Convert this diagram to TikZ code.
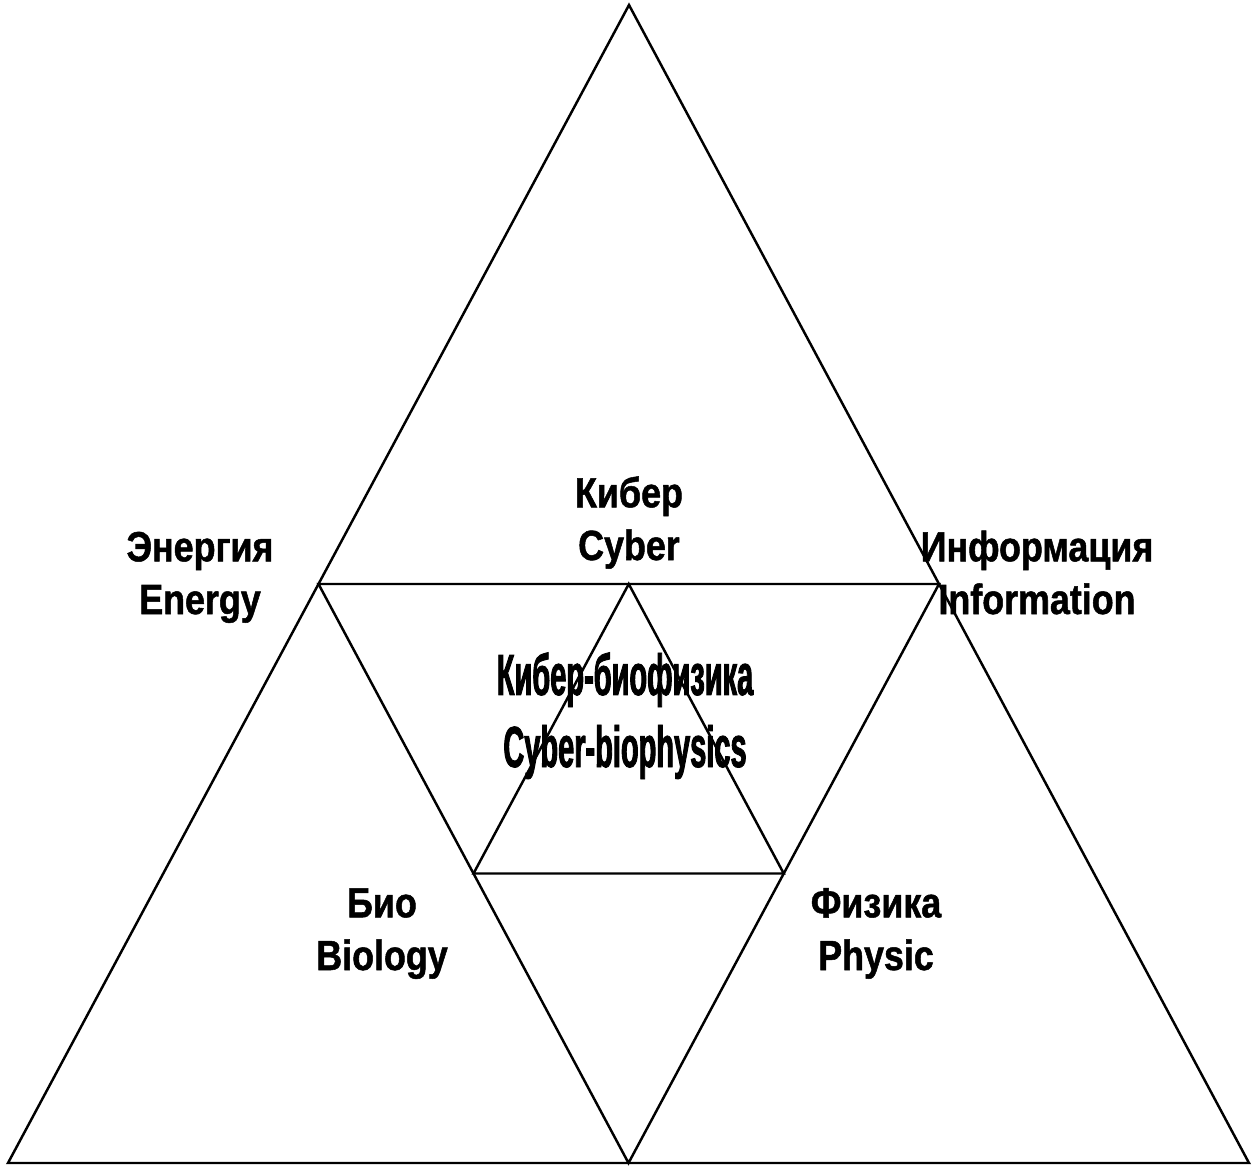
\documentclass[tikz,border=0pt]{standalone}
\usepackage{fontspec}
\setmainfont{Liberation Sans}
\newfontfamily\fieldfont[FakeStretch=0.85, BoldFeatures={FakeBold=1.2}]{Liberation Sans}
\newfontfamily\corefont[FakeStretch=0.5, BoldFeatures={FakeBold=1.5}]{Liberation Sans}
\usetikzlibrary{calc}

\begin{document}
\begin{tikzpicture}[
    x = 0.02cm, y = -0.02cm,
    edge/.style = {draw=black, line width=1.4pt, line join=miter},
    fieldtext/.style = {font=\fieldfont\bfseries\fontsize{24}{30}\selectfont,
                        align=center, inner sep=0pt, anchor=base},
    coretext/.style = {font=\corefont\bfseries\fontsize{33}{41}\selectfont,
                       align=center, inner sep=0pt, anchor=base}
]
  \useasboundingbox (0,0) rectangle (1254,1166);

  \coordinate (top)    at (629,5);
  \coordinate (left)   at (8,1163);
  \coordinate (right)  at (1249,1163);
  \coordinate (midl)   at ($(top)!0.5!(left)$);
  \coordinate (midr)   at ($(top)!0.5!(right)$);
  \coordinate (midb)   at ($(left)!0.5!(right)$);
  \coordinate (innerl) at ($(midl)!0.5!(midb)$);
  \coordinate (innerr) at ($(midr)!0.5!(midb)$);
  \coordinate (innert) at ($(midl)!0.5!(midr)$);

  \draw[edge] (top) -- (left) -- (right) -- cycle;
  \draw[edge] (midl) -- (midr) -- (midb) -- cycle;
  \draw[edge] (innert) -- (innerl) -- (innerr) -- cycle;

  \node[fieldtext] (cyber)  at (629,560)  {Кибер\\Cyber};
  \node[fieldtext] (energy) at (200,614)  {Энергия\\Energy};
  \node[fieldtext] (info)   at (1037,614) {Информация\\Information};
  \node[fieldtext] (bio)    at (382,970)  {Био\\Biology};
  \node[fieldtext] (phys)   at (876,970)  {Физика\\Physic};
  \node[coretext]  (core)   at (625,767)  {Кибер-биофизика\\Cyber-biophysics};
\end{tikzpicture}
\end{document}
